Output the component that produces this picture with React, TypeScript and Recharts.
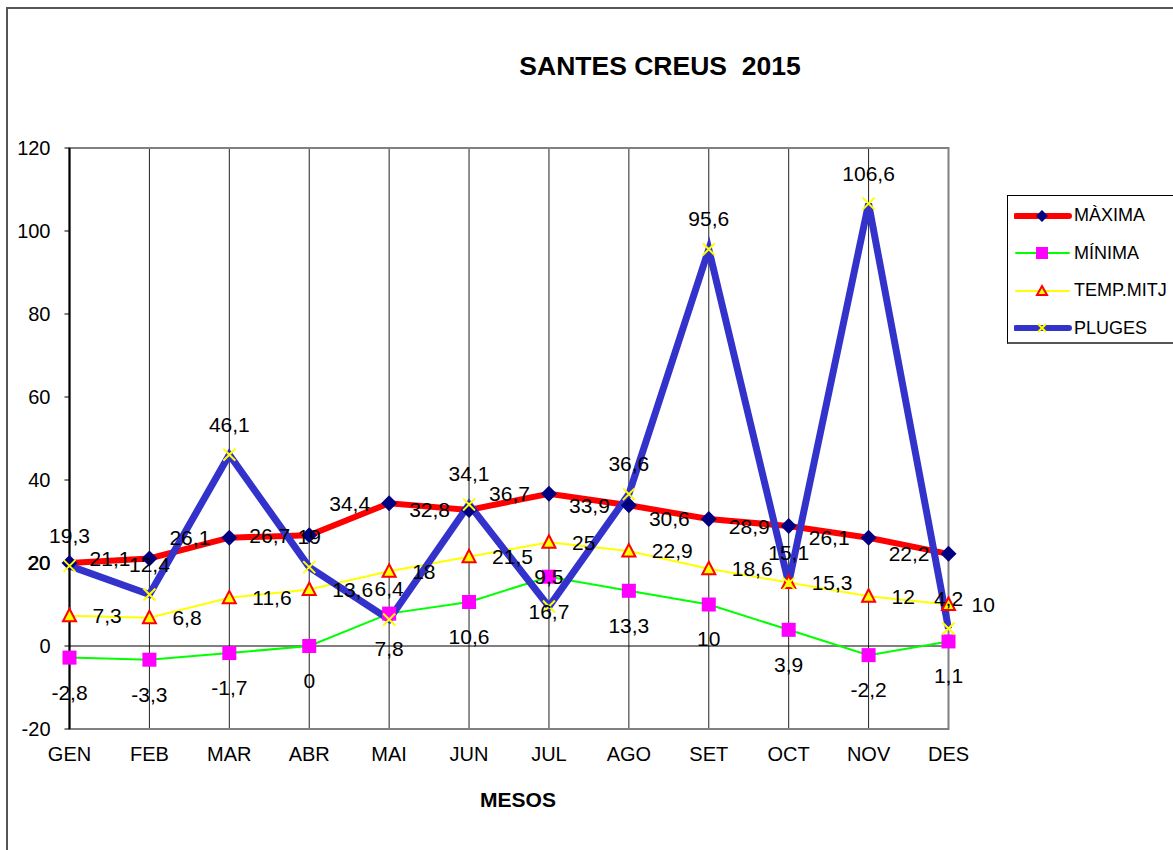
import React from 'react';
import {
  LineChart,
  Line,
  XAxis,
  YAxis,
  CartesianGrid,
  ReferenceLine,
  ReferenceArea,
  LabelList,
  Legend,
} from 'recharts';

const months = ['GEN', 'FEB', 'MAR', 'ABR', 'MAI', 'JUN', 'JUL', 'AGO', 'SET', 'OCT', 'NOV', 'DES'];
const maxima = [20, 21.1, 26.1, 26.7, 34.4, 32.8, 36.7, 33.9, 30.6, 28.9, 26.1, 22.2];
const minima = [-2.8, -3.3, -1.7, 0, 7.8, 10.6, 16.7, 13.3, 10, 3.9, -2.2, 1.1];
const tempMitja = [7.3, 6.8, 11.6, 13.6, 18, 21.5, 25, 22.9, 18.6, 15.3, 12, 10];
const pluges = [19.3, 12.4, 46.1, 19, 6.4, 34.1, 9.5, 36.6, 95.6, 15.1, 106.6, 4.2];
const yTicks = [-20, 0, 20, 40, 60, 80, 100, 120];

const data = months.map((mes, i) => ({
  mes,
  maxima: maxima[i],
  minima: minima[i],
  tempMitja: tempMitja[i],
  pluges: pluges[i],
}));

const FONT = '"Liberation Sans", Arial, sans-serif';
const fmt = (v: any) => String(v).replace('.', ',');

// markers, roughly like the excel ones
const Diamond = (p: any) => {
  const { cx, cy, index } = p;
  if (cx == null || cy == null) return null;
  const s = 8;
  return (
    <path
      key={`dia-${index}`}
      d={`M${cx},${cy - s}L${cx + s},${cy}L${cx},${cy + s}L${cx - s},${cy}Z`}
      fill="#000080"
    />
  );
};

const Square = (p: any) => {
  const { cx, cy, index } = p;
  if (cx == null || cy == null) return null;
  return <rect key={`sq-${index}`} x={cx - 7} y={cy - 7} width={14} height={14} fill="#FF00FF" />;
};

const Triangle = (p: any) => {
  const { cx, cy, index } = p;
  if (cx == null || cy == null) return null;
  return (
    <path
      key={`tri-${index}`}
      d={`M${cx},${cy - 7}L${cx + 6.5},${cy + 5.5}L${cx - 6.5},${cy + 5.5}Z`}
      fill="#FFFF00"
      stroke="#FF0000"
      strokeWidth={2}
    />
  );
};

const Cross = (p: any) => {
  const { cx, cy, index } = p;
  if (cx == null || cy == null) return null;
  const s = 6;
  return (
    <path
      key={`x-${index}`}
      d={`M${cx - s},${cy - s}L${cx + s},${cy + s}M${cx - s},${cy + s}L${cx + s},${cy - s}`}
      stroke="#FFFF00"
      strokeWidth={2}
      fill="none"
    />
  );
};

const legendItems = [
  { name: 'MÀXIMA', color: '#FF0000', width: 6, marker: 'diamond' },
  { name: 'MÍNIMA', color: '#00FF00', width: 2, marker: 'square' },
  { name: 'TEMP.MITJ', color: '#FFFF00', width: 2, marker: 'triangle' },
  { name: 'PLUGES', color: '#3333CC', width: 6, marker: 'cross' },
];

const LegendMarker = ({ type }: { type: string }) => {
  const cx = 28;
  const cy = 10;
  if (type === 'diamond') return <path d={`M${cx},${cy - 6}L${cx + 6},${cy}L${cx},${cy + 6}L${cx - 6},${cy}Z`} fill="#000080" />;
  if (type === 'square') return <rect x={cx - 6} y={cy - 6} width={12} height={12} fill="#FF00FF" />;
  if (type === 'triangle')
    return <path d={`M${cx},${cy - 5}L${cx + 5},${cy + 4}L${cx - 5},${cy + 4}Z`} fill="#FFFF00" stroke="#FF0000" strokeWidth={2} />;
  return <path d={`M${cx - 4},${cy - 4}L${cx + 4},${cy + 4}M${cx - 4},${cy + 4}L${cx + 4},${cy - 4}`} stroke="#FFFF00" strokeWidth={2} />;
};

const LegendBox = () => (
  <div
    style={{
      width: 170,
      height: 149,
      border: '1px solid #000',
      borderBottom: '2px solid #555',
      background: '#fff',
      boxSizing: 'border-box',
      fontFamily: FONT,
      fontSize: 18,
      color: '#000',
      paddingTop: 1,
    }}
  >
    {legendItems.map((item) => (
      <div key={item.name} style={{ display: 'flex', alignItems: 'center', height: 37.5 }}>
        <svg width={58} height={20} style={{ marginLeft: 6, marginRight: 2 }}>
          <line x1={2} y1={10} x2={55} y2={10} stroke={item.color} strokeWidth={item.width} strokeLinecap="round" />
          <LegendMarker type={item.marker} />
        </svg>
        <span>{item.name}</span>
      </div>
    ))}
  </div>
);

export default function App() {
  return (
    <div
      style={{
        position: 'absolute',
        left: 0,
        top: 0,
        width: 1173,
        height: 850,
        overflow: 'hidden',
        background: '#fff',
        fontFamily: FONT,
      }}
    >
      <div
        style={{
          position: 'absolute',
          left: 6,
          top: 7,
          width: 1300,
          height: 1000,
          border: '2px solid #555',
        }}
      />
      <div
        style={{
          position: 'absolute',
          left: 410,
          top: 53,
          width: 500,
          textAlign: 'center',
          fontSize: 26.5,
          lineHeight: '27px',
          fontWeight: 'bold',
          whiteSpace: 'pre',
        }}
      >
        SANTES CREUS  2015
      </div>
      <div
        style={{
          position: 'absolute',
          left: 418,
          top: 788,
          width: 200,
          textAlign: 'center',
          fontSize: 21,
          lineHeight: '24px',
          fontWeight: 'bold',
        }}
      >
        MESOS
      </div>
      <div style={{ position: 'absolute', left: 0, top: 0 }}>
        <LineChart
          width={1173}
          height={850}
          data={data}
          margin={{ top: 148, right: 224.5, bottom: 71, left: 9.5 }}
        >
          <CartesianGrid horizontal={false} stroke="#222" strokeWidth={1} />
          <ReferenceArea
            x1="GEN"
            x2="DES"
            y1={-20}
            y2={120}
            fill="none"
            fillOpacity={0}
            stroke="#808080"
            strokeWidth={2}
          />
          <ReferenceLine y={0} stroke="#000" strokeWidth={1} />
          <XAxis
            dataKey="mes"
            scale="point"
            padding={{ left: 0, right: 0 }}
            axisLine={false}
            tickLine={false}
            tickSize={0}
            tickMargin={18}
            interval={0}
            height={50}
            tick={{ fill: '#000', fontSize: 20 }}
          />
          <YAxis
            domain={[-20, 120]}
            ticks={yTicks}
            interval={0}
            width={60}
            axisLine={{ stroke: '#000', strokeWidth: 2 }}
            tickLine={{ stroke: '#000' }}
            tickSize={5}
            tickMargin={14}
            tick={{ fill: '#000', fontSize: 20 }}
          />
          <Legend
            layout="vertical"
            align="center"
            verticalAlign="middle"
            wrapperStyle={{ position: 'absolute', left: 1007, top: 195, width: 170 }}
            content={() => <LegendBox />}
          />
          <Line
            dataKey="maxima"
            name="MÀXIMA"
            stroke="#FF0000"
            strokeWidth={6}
            dot={Diamond}
            activeDot={false}
            isAnimationActive={false}
          >
            <LabelList dataKey="maxima" position="left" offset={19} formatter={fmt} fill="#000" fontSize={21} />
          </Line>
          <Line
            dataKey="minima"
            name="MÍNIMA"
            stroke="#00FF00"
            strokeWidth={2}
            dot={Square}
            activeDot={false}
            isAnimationActive={false}
          >
            <LabelList dataKey="minima" position="bottom" offset={27} formatter={fmt} fill="#000" fontSize={21} />
          </Line>
          <Line
            dataKey="tempMitja"
            name="TEMP.MITJ"
            stroke="#FFFF00"
            strokeWidth={2}
            dot={Triangle}
            activeDot={false}
            isAnimationActive={false}
          >
            <LabelList dataKey="tempMitja" position="right" offset={23} formatter={fmt} fill="#000" fontSize={21} />
          </Line>
          <Line
            dataKey="pluges"
            name="PLUGES"
            stroke="#3333CC"
            strokeWidth={7}
            dot={Cross}
            activeDot={false}
            isAnimationActive={false}
          >
            <LabelList dataKey="pluges" position="top" offset={23} formatter={fmt} fill="#000" fontSize={21} />
          </Line>
        </LineChart>
      </div>
    </div>
  );
}
